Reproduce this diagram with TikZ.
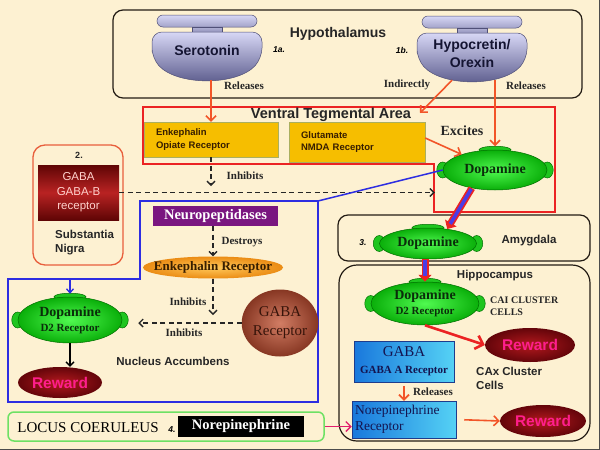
\documentclass[tikz,border=0pt]{standalone}
\usepackage{fontspec}
\setmainfont{Liberation Serif}
\setsansfont{Liberation Sans}
\usetikzlibrary{shapes.geometric,arrows.meta}

\definecolor{cream}{RGB}{253,241,210}
\definecolor{frameline}{RGB}{35,28,20}
\definecolor{relred}{RGB}{242,85,40}
\definecolor{vtared}{RGB}{235,35,35}
\definecolor{recTop}{RGB}{215,215,245}
\definecolor{recBot}{RGB}{85,85,135}
\definecolor{recLine}{RGB}{80,80,120}
\definecolor{recText}{RGB}{20,20,50}
\definecolor{ampfill}{RGB}{246,190,0}
\definecolor{ampline}{RGB}{170,175,95}
\definecolor{ampink}{RGB}{55,30,0}
\definecolor{snline}{RGB}{232,95,60}
\definecolor{gbDark}{RGB}{95,5,5}
\definecolor{gbMid}{RGB}{185,35,35}
\definecolor{gbText}{RGB}{255,210,205}
\definecolor{naline}{RGB}{45,45,225}
\definecolor{purp}{RGB}{122,22,128}
\definecolor{enkIn}{RGB}{255,200,90}
\definecolor{enkOut}{RGB}{235,140,20}
\definecolor{gaIn}{RGB}{210,125,100}
\definecolor{gaOut}{RGB}{135,55,35}
\definecolor{gaText}{RGB}{55,20,10}
\definecolor{daIn}{RGB}{80,250,80}
\definecolor{daOut}{RGB}{10,175,10}
\definecolor{daLine}{RGB}{0,110,0}
\definecolor{daText}{RGB}{10,45,10}
\definecolor{rwIn}{RGB}{180,25,30}
\definecolor{rwOut}{RGB}{100,5,10}
\definecolor{rwText}{RGB}{255,30,140}
\definecolor{bbL}{RGB}{25,120,220}
\definecolor{bbR}{RGB}{85,210,245}
\definecolor{bbLine}{RGB}{30,60,140}
\definecolor{bbText}{RGB}{20,20,80}
\definecolor{lcgreen}{RGB}{110,225,100}
\definecolor{pinkarr}{RGB}{225,30,110}
\definecolor{bigblue}{RGB}{75,60,230}

\newcommand\sz[2]{\fontsize{#1}{#2}\selectfont}

\pgfdeclarelayer{paper}
\pgfdeclarelayer{behind}
\pgfsetlayers{paper,behind,main}

\tikzset{
  region/.style={draw=frameline, line width=1.2pt, rounded corners=10pt},
  title/.style={font=\sffamily\bfseries\sz{11.5}{13.5}, text=black!85, inner sep=0pt},
  verb/.style={font=\bfseries\sz{11}{12}, text=black!85, inner sep=0pt},
  numlbl/.style={font=\sffamily\bfseries\itshape\sz{8.5}{10}, inner sep=0pt},
  rectext/.style={font=\sffamily\bfseries\sz{14}{17}, text=recText, minimum width=110pt, align=center},
  ampbox/.style={draw=ampline, fill=ampfill, font=\sffamily\bfseries\sz{9.5}{12.5}, text=ampink, align=left, inner xsep=12pt, inner ysep=0pt},
  dopa/.style={ellipse, draw=daLine, line width=0.5pt, inner color=daIn, outer color=daOut, text=daText, font=\bfseries\sz{14}{15}, align=center, inner sep=0pt},
  bump/.style={draw=daLine, line width=0.5pt, fill=daOut!70!daIn},
  reward/.style={ellipse, inner color=rwIn, outer color=rwOut, text=rwText, font=\sffamily\bfseries\sz{15.5}{17}, inner sep=0pt},
  bluebox/.style={draw=bbLine, line width=0.5pt, left color=bbL, right color=bbR, text=bbText, inner sep=0pt},
  dasharrow/.style={line width=1.3pt, black!85, dash pattern=on 5pt off 3.5pt, -{Straight Barb[length=4pt,width=8pt]}},
  redarrow/.style={draw=relred, line width=1.6pt, -{Straight Barb[length=5pt,width=10pt]}},
  redthick/.style={draw=vtared, line width=2.6pt, -{Straight Barb[length=7pt,width=14pt]}},
  bigarrow/.style={draw=vtared, line width=7pt, -{Triangle[length=7pt,width=13pt]},
    postaction={draw=bigblue, line width=3.5pt, -, shorten >=6pt, shorten <=1pt}},
  receptor/.pic={
    \shade[top color=recTop, bottom color=recTop!60!recBot, draw=recLine, line width=0.5pt, rounded corners=6pt] (-50,-17) rectangle (50,-5);
    \shade[top color=recTop!70!recBot, bottom color=recTop!50!recBot, draw=recLine, line width=0.5pt] (-15,-5) rectangle (15,0);
    \shade[top color=recTop, bottom color=recBot, draw=recLine, line width=0.5pt, rounded corners=10pt]
      (-55,26) -- (-55,0) -- (55,0) -- (55,26) .. controls (30,54) and (-30,54) .. (-55,26) -- cycle;
  }
}

\begin{document}
\begin{tikzpicture}[x=1pt,y=-1pt]
  \useasboundingbox (0,0) rectangle (600,450);
  \begin{pgfonlayer}{paper}
    \fill[cream] (0,0) rectangle (600,450);
    \draw[black!70, line width=1.2pt] (0,449.4) -- (599.4,449.4) -- (599.4,0);
  \end{pgfonlayer}

  % hypothalamus
  \draw[region] (113,10) rectangle (582,98);
  \node[title, font=\sffamily\bfseries\sz{14}{16}] (hypolbl) at (338,34) {Hypothalamus};
  \pic at (207,32) {receptor};
  \pic at (472,33) {receptor};
  \node[rectext, minimum height=60pt] (ser) at (207,50) {Serotonin};
  \node[rectext, minimum height=54pt, font=\sffamily\bfseries\sz{14}{18}] (hcr) at (472,53) {Hypocretin/\\Orexin};
  \node[numlbl] (n1a) at (279,50) {1a.};
  \node[numlbl] (n1b) at (402,50) {1b.};
  \node[verb] (rel1) at (244,86) {Releases};
  \node[verb] (indir) at (407,85) {Indirectly};
  \node[verb] (rel2) at (526,86) {Releases};

  % ventral tegmental area
  \draw[vtared, line width=1.3pt] (143,107) -- (555,107) -- (555,212) -- (434,212) -- (434,164) -- (143,164) -- cycle;
  \node[title, font=\sffamily\bfseries\sz{14.5}{16}] (vtalbl) at (331,115) {Ventral Tegmental Area};
  \node[ampbox, text width=110pt, minimum height=35pt] (enk) at (211,139.5) {Enkephalin\\Opiate Receptor};
  \node[ampbox, text width=112pt, minimum height=40pt] (glu) at (357,142) {Glutamate\\NMDA Receptor};
  \node[verb, font=\bfseries\sz{14}{16}] (excites) at (462,131) {Excites};
  \node[dopa, minimum width=104pt, minimum height=40pt] (vtaDA) at (495,170) {Dopamine};
  \coordinate (vtaIn) at (420,113);

  % substantia nigra
  \draw[snline, line width=1.3pt, rounded corners=12pt] (33,145) rectangle (123,265);
  \node[title, font=\sffamily\bfseries\sz{9}{10}] (n2) at (79,155) {2.};
  \node[minimum width=81pt, minimum height=55pt, top color=gbDark, bottom color=gbDark, middle color=gbMid,
        text=gbText, font=\sffamily\sz{11.5}{14.5}, align=center, inner sep=0pt] (gabab) at (78.5,192.5) {GABA\\GABA-B\\receptor};
  \node[title, align=left, anchor=west, font=\sffamily\bfseries\sz{11.5}{14}] (sn) at (55,243) {Substantia\\Nigra};

  % nucleus accumbens
  \draw[naline, line width=1.5pt] (140,201) -- (318,201) -- (318,402) -- (8,402) -- (8,279) -- (140,279) -- cycle;
  \coordinate (nacorner) at (318,201);
  \coordinate (naentry) at (70,279);
  \node[fill=purp, text=white, font=\bfseries\sz{14.5}{16}, minimum width=125pt, minimum height=20pt, inner sep=0pt] (neuro) at (215.5,216) {Neuropeptidases};
  \node[ellipse, inner color=enkIn, outer color=enkOut, text=ampink, font=\bfseries\sz{13}{14},
        minimum width=140pt, minimum height=22pt, inner sep=0pt] (enkR) at (213,267.5) {\makebox[0pt]{Enkephalin Receptor}};
  \node[ellipse, inner color=gaIn, outer color=gaOut, text=gaText, font=\sz{15}{19},
        minimum width=74pt, minimum height=67pt, inner sep=0pt, align=center] (gabaR) at (280,323) {GABA\\Receptor};
  \node[dopa, minimum width=104pt, minimum height=46pt] (naDA) at (70,320) {Dopamine\\{\sz{11}{12}D2 Receptor}};
  \node[reward, minimum width=84pt, minimum height=31pt] (naRw) at (60,382.5) {Reward};
  \coordinate (enkdown) at (211,186);
  \coordinate (enkjoin) at (213,315);
  \node[verb] (inh1) at (245,176) {Inhibits};
  \node[verb] (destroys) at (242,242) {Destroys};
  \node[verb] (inh2) at (188,302) {Inhibits};
  \node[verb] (inh3) at (184,333) {Inhibits};
  \node[title] (nalbl) at (173,361) {Nucleus Accumbens};

  % amygdala
  \draw[region] (338,215) rectangle (590,261);
  \node[numlbl] (n3) at (363,243) {3.};
  \node[dopa, minimum width=97pt, minimum height=31pt] (amyDA) at (428,243.5) {Dopamine};
  \node[title] (amylbl) at (529,241) {Amygdala};

  % hippocampus
  \draw[region, rounded corners=18pt] (339,265) rectangle (590,441);
  \node[title] (hiplbl) at (495,276) {Hippocampus};
  \node[dopa, minimum width=108pt, minimum height=43pt] (hipDA) at (425,303.5) {Dopamine\\{\sz{11}{12}D2 Receptor}};
  \node[font=\bfseries\sz{10}{12}, align=left, anchor=west, inner sep=0pt, text=black!85] (cai) at (490,306) {CAI CLUSTER\\CELLS};
  \node[reward, minimum width=90pt, minimum height=34pt] (hipRw1) at (530,345) {Reward};
  \node[bluebox, minimum width=100pt, minimum height=41pt, align=center, font=\sz{15}{17}] (gabaA) at (404,361.5) {GABA\\{\bfseries\sz{11}{13}GABA A Receptor}};
  \node[title, align=left, anchor=west, font=\sffamily\bfseries\sz{11.5}{13.5}] (cax) at (476,378.5) {CAx Cluster\\Cells};
  \node[verb] (rel3) at (433,392) {Releases};
  \node[bluebox, text width=98pt, inner xsep=3pt, minimum height=37pt, align=left, font=\sz{13.5}{16}] (nor) at (404,419.5) {Norepinephrine\\Receptor};
  \node[reward, minimum width=86pt, minimum height=32pt] (hipRw2) at (543,421) {Reward};

  % locus coeruleus
  \node[draw=lcgreen, line width=1.5pt, rounded corners=6pt, minimum width=316pt, minimum height=29pt, inner sep=0pt] (lc) at (166,426.5) {};
  \node[font=\sz{15}{17}, inner sep=0pt] (lclbl) at (88,428) {LOCUS COERULEUS};
  \node[numlbl] (n4) at (172,430) {4.};
  \node[fill=black, text=white, font=\bfseries\sz{14.5}{16}, minimum width=126pt, minimum height=21pt, inner sep=0pt] (norLC) at (241,426.5) {Norepinephrine};

  % bumps of the dopamine receptors
  \begin{pgfonlayer}{behind}
    \foreach \d in {vtaDA,naDA,amyDA,hipDA} {
      \filldraw[bump] (\d.west) ellipse (6pt and 8pt);
      \filldraw[bump] (\d.east) ellipse (6pt and 8pt);
      \filldraw[bump] (\d.north) ellipse (16pt and 3.5pt);
    }
  \end{pgfonlayer}

  % connectors
  \draw[redarrow] (ser.south -| enk.north) -- (enk.north);
  \draw[redarrow] ([xshift=-20pt]hcr.south) -- (vtaIn);
  \draw[redarrow] (hcr.south -| vtaDA.north) -- ([yshift=3.5pt]vtaDA.north);
  \draw[redarrow] ([yshift=4pt]glu.east) -- (vtaDA.155);
  \draw[dasharrow] (enk.south) -- (enkdown);
  \draw[dasharrow, shorten >=8pt] (gabab.east) -- (gabab.east -| vtaDA.west);
  \draw[naline, line width=1.5pt] (nacorner) -- (vtaDA.west);
  \draw[naline, line width=1.3pt, -{Straight Barb[length=4pt,width=7pt]}, shorten >=3pt] (naentry) -- (naDA.north);
  \draw[dasharrow] (enkR.north |- neuro.south) -- (enkR.north);
  \draw[dasharrow] (enkR.south) -- (enkjoin);
  \draw[dasharrow, shorten >=16pt] (gabaR.west) -- (gabaR.west -| naDA.east);
  \draw[black, line width=1.3pt, -{Straight Barb[length=4pt,width=8pt]}] (naDA.south) -- (naDA.south |- naRw.north);
  \draw[bigarrow] (vtaDA.218) -- (amyDA.37);
  \draw[bigarrow] (hipDA.north |- amyDA.south) -- (hipDA.north);
  \draw[redthick] (hipDA.south) -- (hipRw1.west);
  \draw[redarrow, shorten <=4pt] (gabaA.south) -- (nor.north);
  \draw[redarrow, shorten <=8pt] (nor.east) -- (hipRw2.west);
  \draw[pinkarr, line width=1.4pt, -{Straight Barb[length=5pt,width=10pt]}] (lc.east) -- (lc.east -| nor.west);
\end{tikzpicture}
\end{document}
